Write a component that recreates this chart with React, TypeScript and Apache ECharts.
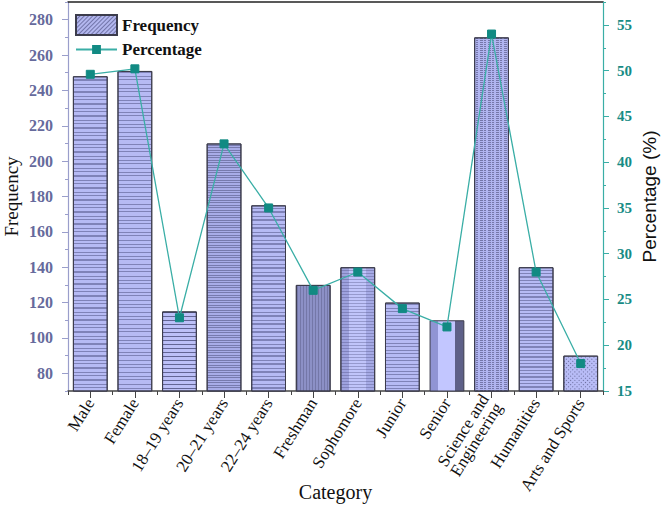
import React, { useEffect, useRef } from "react";
import * as echarts from "echarts";

const categories = [
  "Male",
  "Female",
  "18–19 years",
  "20–21 years",
  "22–24 years",
  "Freshman",
  "Sophomore",
  "Junior",
  "Senior",
  "Science and\nEngineering",
  "Humanities",
  "Arts and Sports",
];
const frequency = [248, 251, 115, 210, 175, 130, 140, 120, 110, 270, 140, 90];
const percentage = [49.6, 50.2, 23, 42, 35, 26, 28, 24, 22, 54, 28, 18];
const leftMajorTicks = [80, 100, 120, 140, 160, 180, 200, 220, 240, 260, 280];
const leftMinorTicks = [70, 90, 110, 130, 150, 170, 190, 210, 230, 250, 270, 290];
const rightMajorTicks = [15, 20, 25, 30, 35, 40, 45, 50, 55];
const rightMinorTicks = [17.5, 22.5, 27.5, 32.5, 37.5, 42.5, 47.5, 52.5, 57.5];

const SERIF = "Liberation Serif";
const SANS = "Liberation Sans";
const BASE = "#b6baf4";
const STRIPE = "rgba(60,62,110,0.45)";
const TEAL = "#178b85";
const TEAL_AXIS = "#3aaea6";
const LEFT_AXIS = "#9a9ecb";
const LEFT_LABEL = "#666a9c";

const hStripe = (dashY: number[], color = STRIPE) => ({
  symbol: "rect",
  symbolSize: 1,
  dashArrayX: [1, 0],
  dashArrayY: dashY,
  rotation: 0,
  color,
});

const bandGradient = (stops: [number, string][]) => {
  const colorStops: { offset: number; color: string }[] = [];
  stops.forEach(([o, c], i) => {
    const next = i < stops.length - 1 ? stops[i + 1][0] : 1;
    colorStops.push({ offset: o, color: c });
    colorStops.push({ offset: next, color: c });
  });
  return { type: "linear", x: 0, y: 0, x2: 1, y2: 0, colorStops };
};

const barStyles: any[] = [
  { color: BASE, decal: hStripe([1, 2, 1, 3, 2, 3]) },
  { color: BASE, decal: hStripe([1, 3, 1, 2, 1, 4]) },
  { color: "#bcc0f8", decal: hStripe([1, 3], "rgba(50,52,95,0.65)") },
  { color: "#a8ace8", decal: hStripe([1, 1, 1, 2], "rgba(60,62,105,0.45)") },
  { color: BASE, decal: hStripe([1, 2, 2, 3]) },
  {
    color: "#8c90c6",
    decal: { symbol: "rect", symbolSize: 1, dashArrayX: [1, 2], dashArrayY: [1, 0], rotation: 0, color: "rgba(60,60,100,0.3)" },
  },
  {
    color: bandGradient([
      [0, "#9ea2de"],
      [0.25, "#c0c4fa"],
      [0.75, "#a6aae6"],
    ]),
    decal: hStripe([1, 2], "rgba(70,72,120,0.35)"),
  },
  { color: BASE, decal: hStripe([1, 2, 1, 3]) },
  {
    color: bandGradient([
      [0, "#9094d4"],
      [0.24, "#c2c6ff"],
      [0.74, "#5e6088"],
    ]),
    decal: "none",
  },
  {
    color: "#b0b4f0",
    decal: { symbol: "rect", symbolSize: 1, dashArrayX: [3, 1, 2, 2], dashArrayY: [1, 1], rotation: 0, color: "rgba(45,45,85,0.45)" },
  },
  { color: BASE, decal: hStripe([1, 2, 1, 2, 2, 2]) },
  {
    color: "#b8bcf6",
    decal: { symbol: "rect", symbolSize: 1, dashArrayX: [1, 2], dashArrayY: [1, 2], rotation: Math.PI / 4, color: "rgba(40,40,80,0.55)" },
  },
];

export default function App() {
  const ref = useRef<HTMLDivElement>(null);

  useEffect(() => {
    const chart = echarts.init(ref.current!, null, { renderer: "svg" });
    const grid = { left: 68, right: 58, top: 2, bottom: 114, containLabel: false, outerBoundsMode: "none" };

    const option: any = {
      animation: false,
      backgroundColor: "#ffffff",
      grid,
      legend: [
        {
          data: [{ name: "Frequency", icon: "rect" }],
          left: 75,
          top: 14,
          padding: 0,
          itemWidth: 41,
          itemHeight: 20,
          textStyle: { fontFamily: SERIF, fontSize: 17, fontWeight: "bold", color: "#111" },
        },
        {
          data: ["Percentage"],
          left: 75,
          top: 41,
          padding: 0,
          itemWidth: 41,
          itemHeight: 11,
          textStyle: { fontFamily: SERIF, fontSize: 17, fontWeight: "bold", color: "#111" },
        },
      ],
      xAxis: [
        {
          type: "category",
          data: categories,
          position: "bottom",
          axisLine: { show: true, lineStyle: { color: "#444", width: 1.5 } },
          axisTick: { show: true, alignWithLabel: true, length: 7, interval: 0, lineStyle: { color: "#444" } },
          axisLabel: {
            interval: 0,
            rotate: 58,
            margin: 9,
            fontFamily: SERIF,
            fontSize: 17,
            color: "#111",
            lineHeight: 16,
          },
          splitLine: { show: false },
          name: "Category",
          nameLocation: "middle",
          nameGap: 91,
          nameMoveOverlap: false,
          nameTextStyle: { fontFamily: SERIF, fontSize: 20, color: "#111" },
        },
        {
          type: "category",
          data: categories,
          position: "bottom",
          axisLine: { show: false },
          axisTick: { show: true, alignWithLabel: false, length: 4, interval: 0, lineStyle: { color: "#444" } },
          axisLabel: { show: false },
          splitLine: { show: false },
        },
        {
          type: "category",
          data: categories,
          position: "top",
          axisLine: { show: true, lineStyle: { color: "#222", width: 1.5 } },
          axisTick: { show: false },
          axisLabel: { show: false },
          splitLine: { show: false },
        },
      ],
      yAxis: [
        {
          type: "value",
          position: "left",
          min: 70,
          max: 290,
          interval: 10,
          axisLine: { show: true, lineStyle: { color: LEFT_AXIS, width: 1.2 } },
          axisTick: { show: true, length: 6, customValues: leftMajorTicks, lineStyle: { color: LEFT_AXIS } },
          axisLabel: {
            customValues: leftMajorTicks,
            margin: 15,
            fontFamily: SERIF,
            fontWeight: "bold",
            fontSize: 16,
            color: LEFT_LABEL,
          },
          splitLine: { show: false },
          name: "Frequency",
          nameLocation: "middle",
          nameRotate: 90,
          nameGap: 47,
          nameMoveOverlap: false,
          nameTextStyle: { fontFamily: SERIF, fontSize: 19, color: "#111" },
        },
        {
          type: "value",
          position: "right",
          min: 15,
          max: 57.5,
          interval: 5,
          axisLine: { show: true, lineStyle: { color: TEAL_AXIS, width: 1.2 } },
          axisTick: { show: true, length: 6, customValues: rightMajorTicks, lineStyle: { color: TEAL_AXIS } },
          axisLabel: {
            customValues: rightMajorTicks,
            margin: 14,
            fontFamily: SERIF,
            fontWeight: "bold",
            fontSize: 15,
            color: TEAL,
          },
          splitLine: { show: false },
          name: "Percentage (%)",
          nameLocation: "middle",
          nameRotate: 90,
          nameGap: 37,
          nameMoveOverlap: false,
          nameTextStyle: { fontFamily: SANS, fontSize: 19, color: "#111" },
        },
        {
          type: "value",
          position: "left",
          min: 70,
          max: 290,
          interval: 10,
          axisLine: { show: false },
          axisTick: { show: true, length: 3, customValues: leftMinorTicks, lineStyle: { color: LEFT_AXIS } },
          axisLabel: { show: false },
          splitLine: { show: false },
        },
        {
          type: "value",
          position: "right",
          min: 15,
          max: 57.5,
          interval: 5,
          axisLine: { show: false },
          axisTick: { show: true, length: 3, customValues: rightMinorTicks, lineStyle: { color: TEAL_AXIS } },
          axisLabel: { show: false },
          splitLine: { show: false },
        },
      ],
      series: [
        {
          name: "Frequency",
          type: "bar",
          xAxisIndex: 0,
          yAxisIndex: 0,
          barWidth: "78%",
          itemStyle: {
            color: "#b3b7ef",
            borderColor: "#3c3c4c",
            borderWidth: 1,
            decal: {
              symbol: "rect",
              symbolSize: 1,
              dashArrayX: [1, 0],
              dashArrayY: [1, 2],
              rotation: -Math.PI / 4,
              color: "rgba(60,62,110,0.55)",
            },
          },
          data: frequency.map((v, i) => ({
            value: v,
            itemStyle: {
              color: barStyles[i].color,
              decal: barStyles[i].decal,
              borderColor: "#3c3c4c",
              borderWidth: 1,
            },
          })),
          z: 2,
        },
        {
          name: "Percentage",
          type: "line",
          xAxisIndex: 0,
          yAxisIndex: 1,
          data: percentage,
          symbol: "rect",
          symbolSize: 8,
          lineStyle: { color: TEAL_AXIS, width: 1.3 },
          itemStyle: { color: "#118a83", borderColor: "#118a83" },
          z: 5,
        },
      ],
    };

    chart.setOption(option);
    return () => chart.dispose();
  }, []);

  return (
    <div
      ref={ref}
      style={{ position: "absolute", left: 0, top: 0, width: 661, height: 505 }}
    />
  );
}
